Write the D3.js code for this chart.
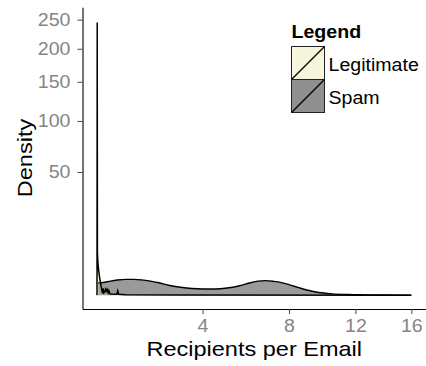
<!DOCTYPE html>
<html><head><meta charset="utf-8">
<script src="https://cdn.jsdelivr.net/npm/d3@7"></script>
<style>html,body{margin:0;padding:0;background:#fff;} svg{display:block;}</style>
</head><body><svg id="c" width="426" height="366"></svg>
<script>
// ---- data ----
const seriesNames = ["Legitimate", "Spam"];
const xTicks = [4, 8, 12, 16];
const yTicks = [50, 100, 150, 200, 250];

const spamX = [1.0, 1.1, 1.25, 1.4, 1.6, 1.8, 2.0, 2.25, 2.5, 2.8, 3.2, 3.6, 4.0, 4.5, 5.0, 5.5, 6.0, 6.4, 6.8, 7.2, 7.6, 8.0, 8.5, 9.0, 9.7, 10.5, 11.5, 12.5, 14, 16];
const spamDensity = [0.49, 0.53, 0.66, 0.76, 0.83, 0.83, 0.78, 0.66, 0.51, 0.33, 0.21, 0.148, 0.127, 0.127, 0.17, 0.28, 0.49, 0.66, 0.70, 0.63, 0.52, 0.37, 0.2, 0.09, 0.024, 0.0065, 0.0016, 0.0005, 0.0001, 0.00005];

const legitX = [0.978, 0.982, 0.986, 0.995, 1.01, 1.03, 1.045, 1.06, 1.08, 1.09, 1.10, 1.115, 1.13, 1.15, 1.165, 1.18, 1.20, 1.215, 1.24, 1.39, 1.41, 1.43, 1.6, 3, 16];
const legitDensity = [0, 245, 6, 3.5, 2, 1.0, 0.5, 0.2, 0.03, 0.02, 0.16, 0.02, 0.03, 0.12, 0.06, 0.11, 0.02, 0.07, 0.005, 0.003, 0.06, 0.003, 0.001, 0.0003, 0];

// ---- layout ----
const panel = {left: 82.5, right: 427, top: 7.3, bottom: 309};
const SX = 1.12;
const FONT = "'Liberation Sans', Arial, Helvetica, sans-serif";
const svg = d3.select("#c");

const x = d3.scaleSqrt().domain([0.7225, 17.2225]).range([panel.left, panel.right]);
const y = d3.scaleSqrt().domain([-0.624, 272.9]).range([panel.bottom, panel.top]);

const spam = spamX.map((v, i) => ({x: v, d: spamDensity[i]}));
const legit = legitX.map((v, i) => ({x: v, d: legitDensity[i]}));

// spam density
const spamArea = d3.area().x(d => x(d.x)).y0(y(0)).y1(d => y(d.d)).curve(d3.curveMonotoneX);
const spamLine = d3.line().x(d => x(d.x)).y(d => y(d.d)).curve(d3.curveMonotoneX);
svg.append("path").datum(spam).attr("d", spamArea).attr("fill", "#9a9a9a");
svg.append("path").datum(spam).attr("d", spamLine).attr("fill", "none").attr("stroke", "#000").attr("stroke-width", 1.4);

// legitimate density
const legArea = d3.area().x(d => x(d.x)).y0(y(0)).y1(d => y(d.d));
const legLine = d3.line().x(d => x(d.x)).y(d => y(d.d));
svg.append("path").datum(legit).attr("d", legArea).attr("fill", "rgb(220,213,104)").attr("fill-opacity", 0.23);
svg.append("path").datum(legit).attr("d", legLine).attr("fill", "none").attr("stroke", "#000").attr("stroke-width", 1.5);

// axes
const gx = svg.append("g").attr("transform", `translate(0,${panel.bottom})`)
  .call(d3.axisBottom(x).tickValues(xTicks).tickSize(5).tickPadding(6).tickSizeOuter(0).tickFormat(d3.format("d")));
const gy = svg.append("g").attr("transform", `translate(${panel.left},0)`)
  .call(d3.axisLeft(y).tickValues(yTicks).tickSize(5).tickPadding(5.7).tickSizeOuter(0).tickFormat(d3.format("d")));
[gx, gy].forEach(g => {
  g.select(".domain").attr("stroke", "#000").attr("stroke-width", 1.1);
  g.selectAll(".tick line").attr("stroke", "#444").attr("stroke-width", 1);
  g.selectAll(".tick text").attr("fill", "#858585").attr("font-size", 17.5)
    .attr("font-family", FONT).attr("transform", `scale(${SX},1)`);
});

function label(x0, y0, str, o) {
  return svg.append("text")
    .attr("transform", `translate(${x0},${y0}) rotate(${o.rot || 0}) scale(${SX},1)`)
    .attr("text-anchor", o.anchor || "start")
    .attr("font-family", FONT).attr("font-size", o.size)
    .attr("font-weight", o.bold ? "bold" : "normal")
    .attr("fill", o.fill || "#000").text(str);
}

label((panel.left + panel.right) / 2 - 0.5, 355.5, "Recipients per Email", {size: 21, anchor: "middle"});
label(31.5, 158, "Density", {size: 21, anchor: "middle", rot: -90});

// legend
const legend = svg.append("g");
label(291.5, 37.5, "Legend", {size: 17.5, bold: true});
const keyFills = [{fill: "rgb(220,213,104)", op: 0.23}, {fill: "#8f8f8f", op: 1}];
seriesNames.forEach((name, i) => {
  const ky = 46.5 + i * 33;
  legend.append("rect").attr("x", 291.5).attr("y", ky).attr("width", 33).attr("height", 33)
    .attr("fill", "#fff").attr("stroke", "none");
  legend.append("rect").attr("x", 291.5).attr("y", ky).attr("width", 33).attr("height", 33)
    .attr("fill", keyFills[i].fill).attr("fill-opacity", keyFills[i].op)
    .attr("stroke", "#222").attr("stroke-width", 1);
  legend.append("line").attr("x1", 291.5).attr("y1", ky + 33).attr("x2", 324.5).attr("y2", ky)
    .attr("stroke", "#000").attr("stroke-width", 1.2);
  label(328.5, ky + 24, name, {size: 17.5});
});
</script></body></html>
